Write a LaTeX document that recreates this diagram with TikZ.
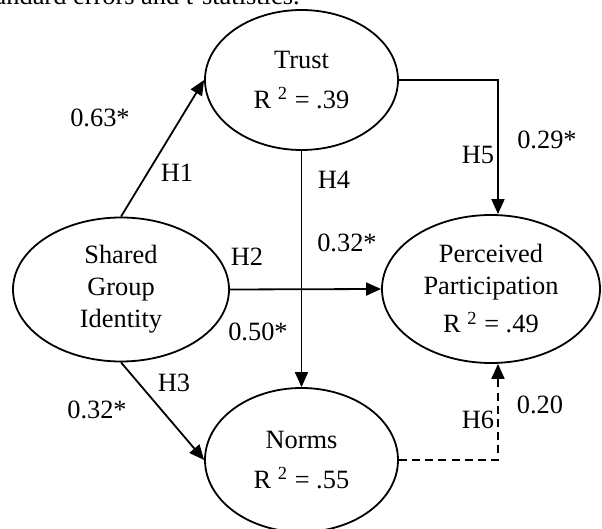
\documentclass[tikz,border=0pt]{standalone}
\usepackage{fontspec}
\setmainfont{Liberation Serif}
\usepackage{tikz}
\usetikzlibrary{shapes}
\usetikzlibrary{positioning}
\usetikzlibrary{arrows.meta}
\newcommand{\pfont}{\fontsize{13.2}{16}\selectfont}
\tikzset{
    latent/.style = {ellipse, line width=0.9pt, draw=black, align=center, inner sep=0pt, font=\pfont, text=black},
    plabel/.style = {inner sep=0pt, font=\pfont, text=black},
    edgep/.style = {-{Triangle[length=7.5pt,width=6.5pt]}, line width=0.9pt, black},
    edgepd/.style = {-{Triangle[length=7.5pt,width=6.5pt]}, line width=0.9pt, black, dash pattern=on 4pt off 2.6pt}, % not significant
}

\begin{document}
\begin{tikzpicture}[x=0.5pt,y=-0.5pt]
%
\path[use as bounding box] (0,0) rectangle (602,529);
\node[plabel, anchor=base east] at (300,5) (caption) {standard errors and t-statistics.};
%
\node[latent, minimum width=96.5pt, minimum height=70pt] at (301.5,80) (trust) {Trust\\[4pt]R \textsuperscript{2} = .39};
\node[latent, minimum width=108pt, minimum height=72pt] at (121,289.5) (sgi) {Shared\\Group\\Identity};
\node[latent, minimum width=109pt, minimum height=74pt] at (491,289) (pp) {Perceived\\Participation\\[3pt]R \textsuperscript{2} = .49};
\node[latent, minimum width=96.5pt, minimum height=72pt] at (301.5,460) (norms) {Norms\\[4pt]R \textsuperscript{2} = .55};
%
\draw[edgep] (sgi.north) -- (trust.west);
\draw[edgep] (sgi.east) -- (pp.west);
\draw[edgep] (sgi.south) -- (norms.west);
\draw[edgep] (trust.south) -- (norms.north);
\draw[edgep] (trust.east) -| ([xshift=3.5pt]pp.north);
\draw[edgepd] (norms.east) -| ([xshift=3.5pt]pp.south);
%
\node[plabel] at (100,118) (b1) {0.63*};
\node[plabel] at (177,173) (h1) {H1};
\node[plabel] at (247,257) (h2) {H2};
\node[plabel] at (347,243) (b2) {0.32*};
\node[plabel] at (174,383) (h3) {H3};
\node[plabel] at (97,410) (b3) {0.32*};
\node[plabel] at (334,180) (h4) {H4};
\node[plabel] at (258,332) (b4) {0.50*};
\node[plabel] at (478,155) (h5) {H5};
\node[plabel] at (547,140) (b5) {0.29*};
\node[plabel] at (478,420) (h6) {H6};
\node[plabel] at (540,405) (b6) {0.20};

\end{tikzpicture}
\end{document}
